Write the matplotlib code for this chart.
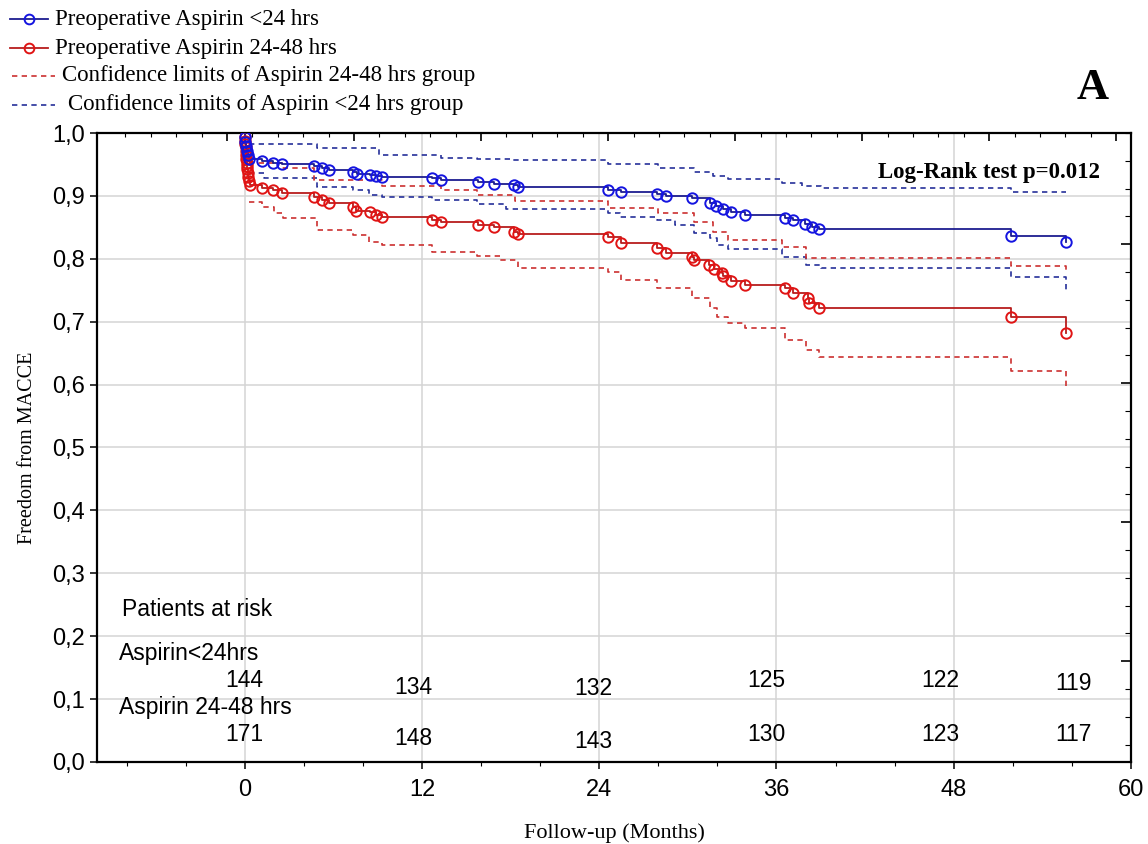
import numpy as np
import matplotlib
matplotlib.use("Agg")
import matplotlib.pyplot as plt
from matplotlib.lines import Line2D
from matplotlib.ticker import MultipleLocator, FixedLocator

# ── Kaplan-Meier estimates (months, freedom from MACCE) ──────────────────────
# Aspirin < 24 hrs before surgery
blue_t = [0.00, 0.05, 0.10, 0.15, 0.20, 0.30,
          1.2, 1.9, 2.5, 4.7, 5.2, 5.7, 7.3, 7.6, 8.5, 8.9, 9.3,
          12.7, 13.3, 15.8, 16.9, 18.2, 18.5, 24.6, 25.5, 27.9, 28.5,
          30.3, 31.5, 31.9, 32.4, 32.9, 33.9, 36.6, 37.1, 37.9, 38.4, 38.9,
          51.9, 55.6]
blue_s = [0.993, 0.986, 0.979, 0.972, 0.965, 0.958,
          0.955, 0.953, 0.951, 0.948, 0.945, 0.941, 0.938, 0.935, 0.933, 0.931, 0.930,
          0.928, 0.925, 0.922, 0.919, 0.917, 0.914, 0.910, 0.906, 0.903, 0.900,
          0.896, 0.889, 0.884, 0.879, 0.874, 0.870, 0.865, 0.862, 0.856, 0.851, 0.847,
          0.837, 0.826]

# Aspirin 24-48 hrs before surgery
red_t = [0.00, 0.02, 0.04, 0.06, 0.08, 0.10, 0.12, 0.14, 0.16, 0.18, 0.20, 0.25, 0.30, 0.35,
         1.2, 1.9, 2.5, 4.7, 5.2, 5.7, 7.3, 7.5, 8.5, 8.9, 9.3,
         12.7, 13.3, 15.8, 16.9, 18.2, 18.5, 24.6, 25.5, 27.9, 28.5,
         30.3, 30.4, 31.4, 31.8, 32.3, 32.4, 32.9, 33.9,
         36.6, 37.1, 38.1, 38.2, 38.9, 51.9, 55.6]
red_s = [0.994, 0.988, 0.982, 0.977, 0.971, 0.965, 0.959, 0.953, 0.947, 0.942, 0.936, 0.930, 0.924, 0.918,
         0.913, 0.909, 0.905, 0.899, 0.894, 0.889, 0.882, 0.876, 0.874, 0.870, 0.867,
         0.862, 0.858, 0.854, 0.851, 0.843, 0.839, 0.834, 0.825, 0.817, 0.810,
         0.803, 0.798, 0.790, 0.784, 0.778, 0.772, 0.764, 0.759,
         0.754, 0.746, 0.738, 0.730, 0.722, 0.707, 0.682]

# 95% confidence limits (step starts)
blue_up_t = [0.3, 4.9, 9.1, 13.3, 15.7, 18.0, 24.6, 28.0, 30.4, 31.7, 32.7, 36.4, 37.7, 39.0, 51.9, 55.6]
blue_up_s = [0.983, 0.976, 0.965, 0.961, 0.959, 0.957, 0.951, 0.944, 0.938, 0.932, 0.927, 0.920, 0.915, 0.912, 0.906, 0.906]
blue_lo_t = [0.3, 1.3, 4.9, 7.3, 8.4, 9.3, 12.7, 15.7, 17.7, 24.6, 25.4, 27.9, 29.1, 30.4, 31.5,
             32.0, 32.7, 36.4, 38.0, 39.0, 51.9, 55.6]
blue_lo_s = [0.936, 0.928, 0.914, 0.909, 0.901, 0.898, 0.893, 0.887, 0.879, 0.873, 0.866, 0.862, 0.854,
             0.841, 0.833, 0.822, 0.816, 0.803, 0.790, 0.785, 0.771, 0.750]
red_up_t = [0.3, 2.5, 4.7, 9.3, 13.3, 15.7, 18.3, 24.6, 28.0, 30.4, 31.7, 32.7, 36.4, 38.0, 51.9, 55.6]
red_up_s = [0.952, 0.944, 0.925, 0.916, 0.909, 0.901, 0.892, 0.881, 0.873, 0.859, 0.843, 0.830,
            0.819, 0.801, 0.789, 0.776]
red_lo_t = [0.3, 1.2, 2.0, 2.6, 4.9, 7.3, 8.4, 9.3, 12.7, 15.7, 17.3, 18.5, 24.6, 25.5, 27.9, 30.3,
            31.5, 32.0, 32.7, 33.9, 36.6, 38.0, 38.9, 51.9, 55.6]
red_lo_s = [0.890, 0.882, 0.873, 0.865, 0.846, 0.838, 0.827, 0.822, 0.811, 0.804, 0.798, 0.785, 0.779,
            0.766, 0.754, 0.738, 0.722, 0.707, 0.698, 0.690, 0.671, 0.655, 0.644, 0.622, 0.591]

# Patients at risk
risk_x = [0, 11.4, 23.6, 35.3, 47.1, 56.1]
risk_blue = [144, 134, 132, 125, 122, 119]
risk_red = [171, 148, 143, 130, 123, 117]
risk_blue_y = [0.130, 0.119, 0.117, 0.130, 0.130, 0.125]
risk_red_y = [0.043, 0.037, 0.033, 0.043, 0.043, 0.043]

SERIF = "Liberation Serif"
SANS = "Liberation Sans"

BLUE_LINE, BLUE_MK, BLUE_CI = "#1c1c90", "#1414e0", "#26309a"
RED_LINE, RED_MK, RED_CI = "#b81c1c", "#e01414", "#cc3030"

fig = plt.figure(figsize=(11.48, 8.44), dpi=100, facecolor="white")
ax = fig.add_axes([0.0845, 0.0972, 0.9007, 0.7452])

# grid
for gx in [0, 12, 24, 36, 48]:
    ax.axvline(gx, color="#d4d4d4", lw=1.1, zorder=0)
for gy in np.arange(0.1, 1.0, 0.1):
    ax.axhline(gy, color="#d4d4d4", lw=1.1, zorder=0)

# confidence limits
dash = (3.2, 2.6)
for t, s, c in [(blue_up_t, blue_up_s, BLUE_CI), (blue_lo_t, blue_lo_s, BLUE_CI),
                (red_up_t, red_up_s, RED_CI), (red_lo_t, red_lo_s, RED_CI)]:
    ax.plot(t, s, drawstyle="steps-post", color=c, lw=1.2, dashes=dash, zorder=2)

# survival curves with event markers
for t, s, lc, mc in [(red_t, red_s, RED_LINE, RED_MK), (blue_t, blue_s, BLUE_LINE, BLUE_MK)]:
    ax.plot([0] + t, [1.0] + s, drawstyle="steps-post", color=lc, lw=1.3, zorder=3)
    ax.plot(t, s, ls="none", marker="o", ms=7.5, mfc="none", mec=mc, mew=1.4, zorder=4)

ax.set_xlim(-10, 60)
ax.set_ylim(0, 1.0)
ax.set_xticks([0, 12, 24, 36, 48, 60])
ax.xaxis.set_minor_locator(MultipleLocator(4))
ax.set_yticks(np.arange(0, 1.01, 0.1))
ax.set_yticklabels([f"{v:.1f}".replace(".", ",") for v in np.arange(0, 1.01, 0.1)])
ax.tick_params(axis="both", which="major", direction="out", length=5, width=1.1,
               labelsize=17, top=False, right=False)
ax.tick_params(axis="x", which="major", pad=7)
ax.tick_params(axis="x", which="minor", direction="out", length=3, width=0.8, top=False)
ax.tick_params(axis="y", which="minor", left=False)
for lbl in ax.get_xticklabels() + ax.get_yticklabels():
    lbl.set_fontfamily(SANS)
for sp in ax.spines.values():
    sp.set_linewidth(1.6)

# secondary tick scales on top and right spines
ax_top = ax.twiny()
ax_top.set_xlim(ax.get_xlim())
ax_top.xaxis.set_major_locator(FixedLocator(np.arange(-1.2, 60, 8.6)))
ax_top.xaxis.set_minor_locator(FixedLocator(np.arange(-8.08, 60, 1.72)))
ax_top.tick_params(axis="x", which="major", direction="in", length=6, width=1.2, labeltop=False)
ax_top.tick_params(axis="x", which="minor", direction="in", length=3, width=0.8)
ax_right = ax.twinx()
ax_right.set_ylim(ax.get_ylim())
ax_right.yaxis.set_major_locator(FixedLocator(1.0 - 0.0442 * np.arange(4, 23, 5)))
ax_right.yaxis.set_minor_locator(FixedLocator(1.0 - 0.0442 * np.arange(0, 23)))
ax_right.tick_params(axis="y", which="major", direction="in", length=7, width=1.2, labelright=False)
ax_right.tick_params(axis="y", which="minor", direction="in", length=4, width=0.8)
for a in (ax_top, ax_right):
    for sp in a.spines.values():
        sp.set_visible(False)

ax.set_xlabel("Follow-up (Months)", family=SERIF, fontsize=16, labelpad=16)
ax.set_ylabel("Freedom from MACCE", family=SERIF, fontsize=14.5, labelpad=11)

# patients at risk
ax.text(-8.3, 0.242, "Patients at risk", family=SANS, fontsize=16.5, va="center", ha="left")
ax.text(-8.5, 0.173, "Aspirin<24hrs", family=SANS, fontsize=16.5, va="center", ha="left")
ax.text(-8.5, 0.087, "Aspirin 24-48 hrs", family=SANS, fontsize=16.5, va="center", ha="left")
for x, n, y in zip(risk_x, risk_blue, risk_blue_y):
    ax.text(x, y, str(n), family=SANS, fontsize=16.5, ha="center", va="center")
for x, n, y in zip(risk_x, risk_red, risk_red_y):
    ax.text(x, y, str(n), family=SANS, fontsize=16.5, ha="center", va="center")

ax.text(57.9, 0.938, "Log-Rank test p=0.012", family=SERIF, fontsize=16.5,
        fontweight="bold", ha="right", va="center")

fig.text(0.952, 0.896, "A", family=SERIF, fontsize=32, fontweight="bold", ha="center", va="center")

# legend above the plot area
legend_rows = [
    (0.9770, "solid", BLUE_LINE, BLUE_MK, 0.0479, "Preoperative Aspirin <24 hrs"),
    (0.9430, "solid", RED_LINE, RED_MK, 0.0479, "Preoperative Aspirin 24-48 hrs"),
    (0.9100, "dashed", RED_CI, None, 0.0540, "Confidence limits of Aspirin 24-48 hrs group"),
    (0.8760, "dashed", BLUE_CI, None, 0.0592, "Confidence limits of Aspirin <24 hrs group"),
]
for y, style, lc, mc, tx, label in legend_rows:
    if style == "solid":
        fig.add_artist(Line2D([0.0087, 0.0418], [y, y], transform=fig.transFigure,
                              color=lc, lw=1.3))
        fig.add_artist(Line2D([0.02525], [y], transform=fig.transFigure, ls="none",
                              marker="o", ms=7, mfc="none", mec=mc, mew=1.4))
    else:
        fig.add_artist(Line2D([0.0105, 0.0479], [y, y], transform=fig.transFigure,
                              color=lc, lw=1.2, dashes=dash))
    fig.text(tx, y, label, family=SERIF, fontsize=16.5, ha="left", va="center")

fig.savefig("out.png", dpi=100, facecolor="white")
